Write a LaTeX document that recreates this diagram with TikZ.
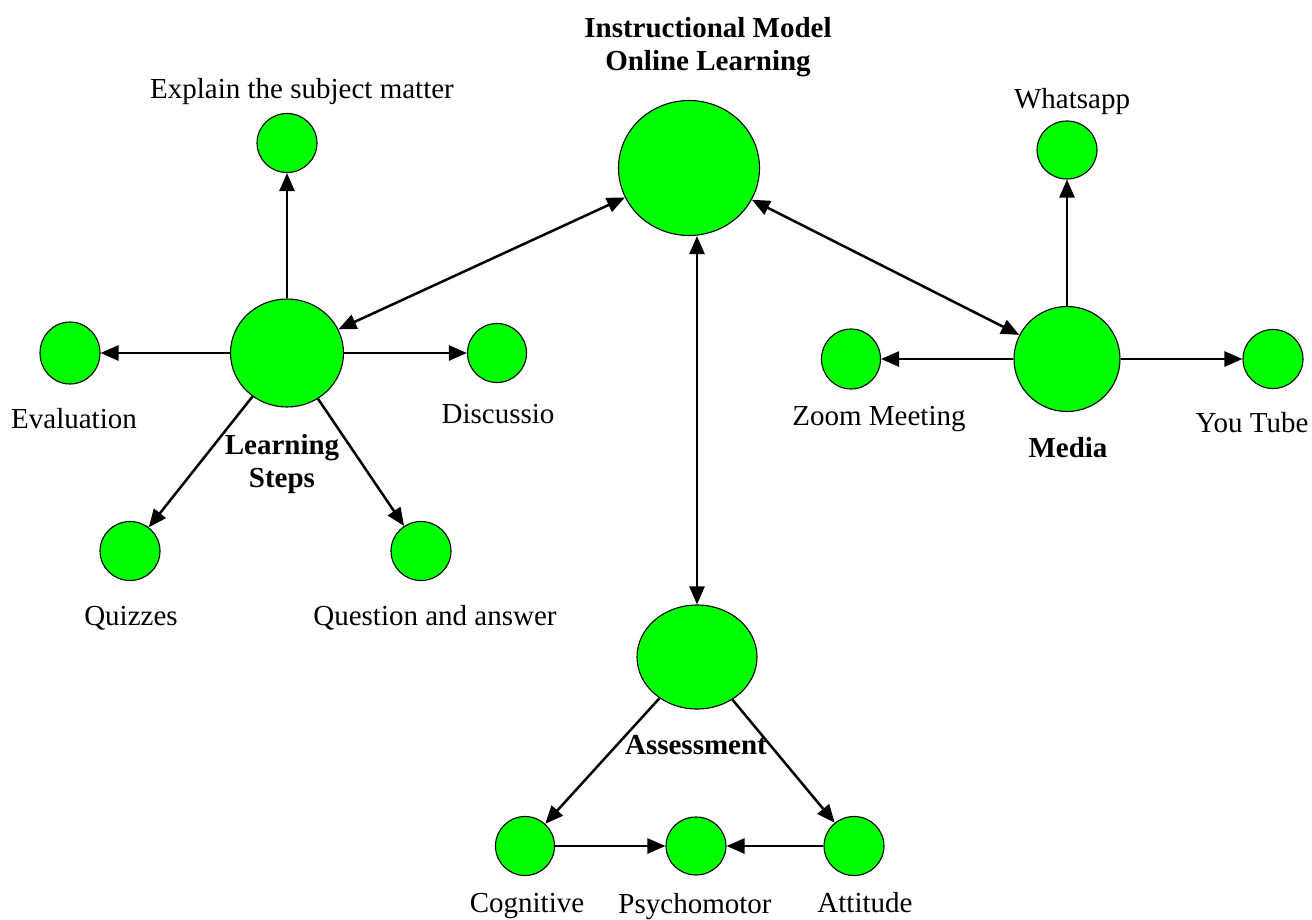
\documentclass[tikz,border=0pt]{standalone}
\usepackage{fontspec}
\setmainfont{Liberation Serif}
\usetikzlibrary{arrows.meta, shapes.geometric}
\definecolor{bubgreen}{RGB}{0,255,0}

\begin{document}
\begin{tikzpicture}[x=1pt, y=-1pt, >={Triangle[length=18pt,width=15pt]},
    bub/.style 2 args={ellipse, draw, fill=bubgreen, line width=1.1pt, inner sep=0pt, minimum width=#1, minimum height=#2},
    lbl/.style={font=\fontsize{29}{33}\selectfont, inner sep=0pt, anchor=base, align=center},
    hd/.style={lbl, font=\fontsize{29}{33}\selectfont\bfseries},
    link/.style={line width=2.5pt}]

    \useasboundingbox (0,0) rectangle (1312,920);

    % centre
    \node[bub={141pt}{135pt}] (online) at (689,168) {};
    \node[hd] (onlinelbl) at (708,71) {Instructional Model\\Online Learning};

    % learning steps
    \node[bub={113pt}{108pt}] (learn) at (287,353) {};
    \node[hd] (learnlbl) at (282,487) {Learning\\Steps};
    \node[bub={60pt}{59pt}] (explain) at (287,143) {};
    \node[lbl] (explainlbl) at (302,99) {Explain the subject matter};
    \node[bub={60pt}{62pt}] (eval) at (70,353) {};
    \node[lbl] (evallbl) at (74,428) {Evaluation};
    \node[bub={59pt}{59pt}] (disc) at (497,353) {};
    \node[lbl] (disclbl) at (498,423) {Discussio};
    \node[bub={60pt}{59pt}] (quiz) at (130,551) {};
    \node[lbl] (quizlbl) at (131,625) {Quizzes};
    \node[bub={60pt}{59pt}] (qa) at (421,551) {};
    \node[lbl] (qalbl) at (435,625) {Question and answer};

    % media
    \node[bub={106pt}{105pt}] (media) at (1067,359) {};
    \node[hd] (medialbl) at (1068,457) {Media};
    \node[bub={60pt}{58pt}] (whats) at (1067,150) {};
    \node[lbl] (whatslbl) at (1072,109) {Whatsapp};
    \node[bub={59pt}{60pt}] (zoom) at (851,359) {};
    \node[lbl] (zoomlbl) at (879,425) {Zoom Meeting};
    \node[bub={60pt}{59pt}] (yt) at (1273,359) {};
    \node[lbl] (ytlbl) at (1252,432) {You Tube};

    % assessment
    \node[bub={120pt}{104pt}] (assess) at (697,657) {};
    \node[hd] (assesslbl) at (696,754) {Assessment};
    \node[bub={59pt}{59pt}] (cog) at (525,846) {};
    \node[lbl] (coglbl) at (527,912) {Cognitive};
    \node[bub={60pt}{58pt}] (psy) at (696,846) {};
    \node[lbl] (psylbl) at (695,913) {Psychomotor};
    \node[bub={60pt}{59pt}] (att) at (854,846) {};
    \node[lbl] (attlbl) at (865,912) {Attitude};

    % connectors
    \draw[<->, link] (online) -- (learn);
    \draw[<->, link] (online) -- (media);
    \draw[<->, link] (assess.north) -- (assess.north |- online.south);
    \foreach \t in {explain, eval, disc, quiz, qa}
        \draw[->, link] (learn) -- (\t);
    \foreach \t in {whats, zoom, yt}
        \draw[->, link] (media) -- (\t);
    \draw[->, link] (assess) -- (cog);
    \draw[->, link] (assess) -- (att);
    \draw[->, link] (cog) -- (psy);
    \draw[->, link] (att) -- (psy);

\end{tikzpicture}
\end{document}
